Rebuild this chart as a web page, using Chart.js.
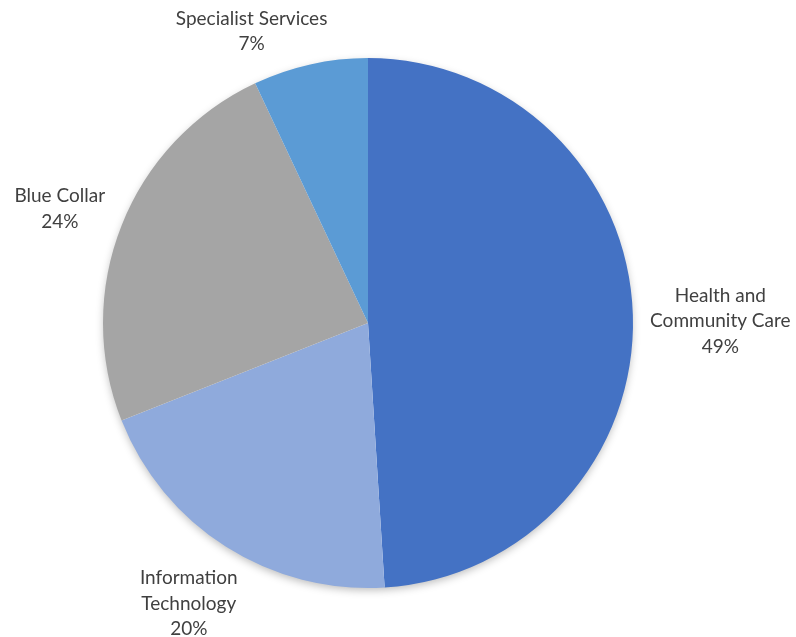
<!DOCTYPE html>
<html>
<head>
<meta charset="utf-8">
<script src="https://cdn.jsdelivr.net/npm/chart.js@4.4.1/dist/chart.umd.min.js"></script>
<style>
  html, body { margin: 0; padding: 0; background: #fff; }
  #wrap { width: 796px; height: 637px; position: relative; }
</style>
</head>
<body>
<div id="wrap"><canvas id="pie"></canvas></div>
<script>
  // workforce split by sector
  const categories = ["Health and Community Care", "Information Technology", "Blue Collar", "Specialist Services"];
  const labelLines = [["Health and", "Community Care"], ["Information", "Technology"], ["Blue Collar"], ["Specialist Services"]];
  const shares = [49, 20, 24, 7];
  const sliceColors = ["#4472C4", "#8FAADC", "#A5A5A5", "#5B9BD5"];

  const FONT = "19px Lato, 'Open Sans', sans-serif";
  const LINE_H = 25.5;
  const GAP = 17;       // clearance between label block and the disc
  const SLIDE_GAP = 10; // clearance used when a label is pushed sideways at the edge
  const SIDE_DROP = 9;  // side labels sit a little below the slice midline

  // soft shadow under the whole disc, drawn once before the slices
  const pieShadow = {
    id: "pieShadow",
    beforeDatasetsDraw(chart) {
      const arc = chart.getDatasetMeta(0).data[0];
      if (!arc) return;
      const { x, y, outerRadius } = arc.getProps(["x", "y", "outerRadius"], true);
      const ctx = chart.ctx;
      ctx.save();
      ctx.shadowColor = "rgba(0,0,0,0.28)";
      ctx.shadowBlur = 9;
      ctx.shadowOffsetY = 3;
      ctx.beginPath();
      ctx.arc(x, y, outerRadius - 1, 0, Math.PI * 2);
      ctx.fillStyle = "#fff";
      ctx.fill();
      ctx.restore();
    },
  };

  // outside-end labels: push each text block out along the slice midline
  // until it clears the circle, then keep it inside the canvas
  const outsideLabels = {
    id: "outsideLabels",
    afterDatasetsDraw(chart) {
      const ctx = chart.ctx;
      const meta = chart.getDatasetMeta(0);
      ctx.save();
      ctx.font = FONT;
      ctx.fillStyle = "#404040";
      ctx.textAlign = "center";
      ctx.textBaseline = "middle";
      meta.data.forEach((arc, i) => {
        const p = arc.getProps(["x", "y", "startAngle", "endAngle", "outerRadius"], true);
        const mid = (p.startAngle + p.endAngle) / 2;
        const dx = Math.cos(mid), dy = Math.sin(mid);
        const lines = labelLines[i].concat([shares[i] + "%"]);
        const hw = Math.max(...lines.map((t) => ctx.measureText(t).width)) / 2;
        const hh = (lines.length * LINE_H) / 2 - 6;
        const clear = (bx, by, gap) => {
          const nx = Math.min(Math.max(p.x, bx - hw), bx + hw);
          const ny = Math.min(Math.max(p.y, by - hh), by + hh);
          return Math.hypot(nx - p.x, ny - p.y) >= p.outerRadius + gap;
        };
        let d = 0, bx = p.x, by = p.y;
        while (!clear(bx, by, GAP) && d < 600) {
          d += 0.5;
          bx = p.x + d * dx;
          by = p.y + d * dy;
        }
        by += SIDE_DROP * dx * dx;
        const minY = 12 + hh, maxY = chart.height - 1 - hh;
        if (by < minY || by > maxY) {
          by = Math.min(Math.max(by, minY), maxY);
          const step = dx < 0 ? -0.5 : 0.5;
          while (!clear(bx, by, SLIDE_GAP) && Math.abs(bx - p.x) < 600) bx += step;
        }
        const y0 = by - ((lines.length - 1) * LINE_H) / 2;
        lines.forEach((t, k) => ctx.fillText(t, bx, y0 + k * LINE_H));
      });
      ctx.restore();
    },
  };

  new Chart(document.getElementById("pie"), {
    type: "pie",
    data: {
      labels: categories,
      datasets: [{
        data: shares,
        backgroundColor: sliceColors,
        borderWidth: 0,
      }],
    },
    options: {
      responsive: true,
      maintainAspectRatio: false,
      animation: false,
      layout: { padding: { left: 103, right: 163, top: 58, bottom: 49 } },
      plugins: {
        legend: { display: false },
        tooltip: { enabled: false },
      },
    },
    plugins: [pieShadow, outsideLabels],
  });
</script>
</body>
</html>
